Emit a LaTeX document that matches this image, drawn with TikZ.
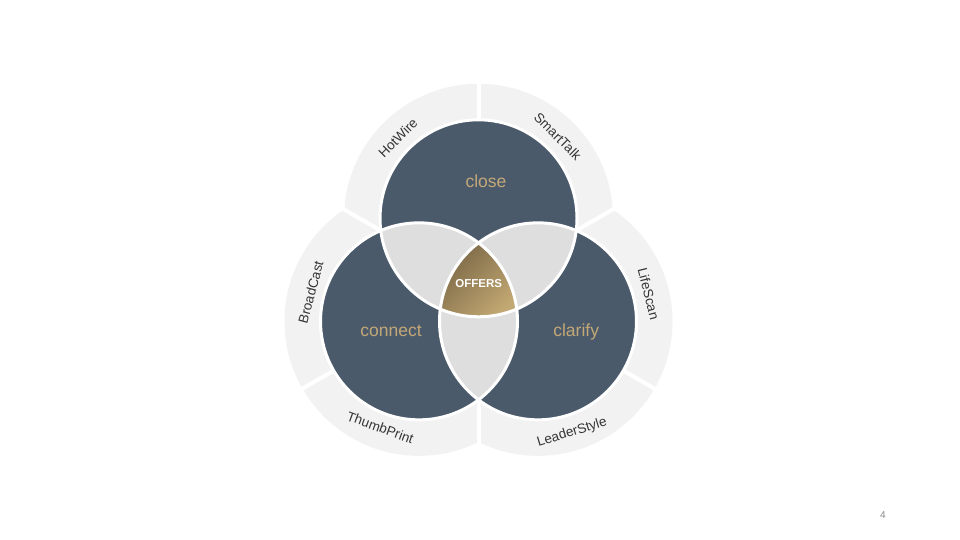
\documentclass[tikz,border=0pt]{standalone}
\usepackage{fontspec}
\setmainfont{Liberation Sans}
\definecolor{ringgray}{HTML}{F2F2F2}
\definecolor{slate}{HTML}{4B5A6B}
\definecolor{overlap}{HTML}{DEDEDE}
\definecolor{goldtext}{HTML}{C3A877}
\definecolor{golddark}{HTML}{7A6646}
\definecolor{goldlight}{HTML}{C2A872}
\definecolor{labeldark}{HTML}{353535}
\definecolor{pagegray}{HTML}{8A8A8A}
\tikzset{
  bigring/.style={fill=ringgray},
  sepline/.style={draw=white, line width=4pt},
  innerdisc/.style={fill=slate},
  outline/.style={draw=white, line width=3pt},
  bigword/.style={text=goldtext, font=\fontsize{17.5}{20}\selectfont, anchor=base, inner sep=0pt},
  ringtext/.style={text=labeldark, font=\fontsize{13.5}{16}\selectfont, inner sep=0pt, text height=9.6pt, text depth=0pt, anchor=center},
}
\begin{document}
\begin{tikzpicture}[x=1pt,y=1pt]
\useasboundingbox (0,0) rectangle (960,540);
\fill[white] (0,0) rectangle (960,540);
\coordinate (G) at (478.5,253);
\coordinate (T) at (478.5,321.7);
\coordinate (L) at (419,218.65);
\coordinate (R) at (538,218.65);
% outer rings
\foreach \c in {T,L,R} \fill[bigring] (\c) circle[radius=134.5pt];
% separators
\draw[sepline] (G) -- ++(30:230);
\draw[sepline] (G) -- ++(150:230);
\draw[sepline] (G) -- ++(270:230);
\draw[sepline] (T) -- ++(90:145);
\draw[sepline] (L) -- ++(210:145);
\draw[sepline] (R) -- ++(330:145);
% inner discs
\foreach \c in {T,L,R} \fill[innerdisc] (\c) circle[radius=98.5pt];
% pairwise overlaps
\begin{scope}
  \clip (T) circle[radius=98.5pt];
  \fill[overlap] (L) circle[radius=98.5pt];
  \fill[overlap] (R) circle[radius=98.5pt];
\end{scope}
\begin{scope}
  \clip (L) circle[radius=98.5pt];
  \fill[overlap] (R) circle[radius=98.5pt];
\end{scope}
% triple overlap
\begin{scope}
  \clip (T) circle[radius=98.5pt];
  \clip (L) circle[radius=98.5pt];
  \clip (R) circle[radius=98.5pt];
  \shade[top color=golddark, bottom color=goldlight, shading angle=45] (440,222) rectangle (518,300);
\end{scope}
% white outlines
\foreach \c in {T,L,R} \draw[outline] (\c) circle[radius=98.5pt];
% words
\node[bigword] (close) at (486,352.3) {close};
\node[bigword] (connect) at (391,203.3) {connect};
\node[bigword] (clarify) at (576.2,203.3) {clarify};
\node[text=white, font=\fontsize{11.5}{13}\selectfont\bfseries, anchor=base, inner sep=0pt] (offers) at (478.7,252.7) {OFFERS};
% ring labels
\node[ringtext, rotate=45] (hotwire) at ([shift={(135:114)}]T) {HotWire};
\node[ringtext, rotate=-45] (smarttalk) at ([shift={(46:114)}]T) {SmartTalk};
\node[ringtext, rotate=75] (broadcast) at ([shift={(165:112)}]L) {BroadCast};
\node[ringtext, rotate=-20] (thumbprint) at ([shift={(250:113)}]L) {ThumbPrint};
\node[ringtext, rotate=17] (leaderstyle) at ([shift={(287:115)}]R) {LeaderStyle};
\node[ringtext, rotate=-76] (lifescan) at ([shift={(14:114)}]R) {LifeScan};
% page number
\node[text=pagegray, font=\fontsize{10}{12}\selectfont, anchor=base, inner sep=0pt] (pagenum) at (883,21.7) {4};
\end{tikzpicture}
\end{document}
